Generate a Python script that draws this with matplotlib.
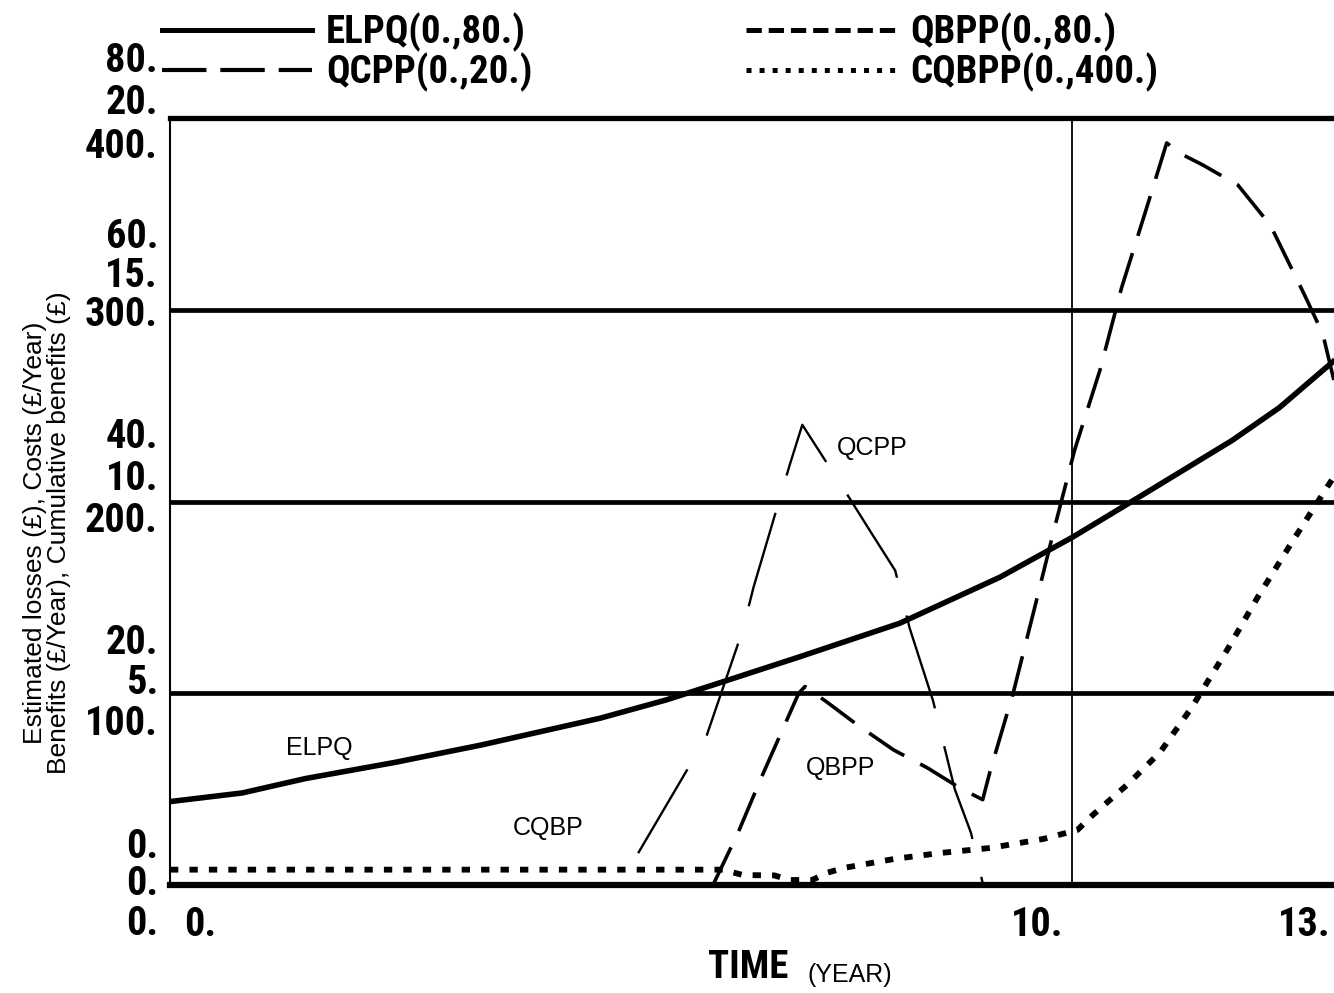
import matplotlib
matplotlib.use("Agg")
import matplotlib.pyplot as plt
from matplotlib.lines import Line2D
from matplotlib import transforms as mtrans
from matplotlib import font_manager as fm

# ------------------------------------------------------------------ data
# ELPQ  (scale 0 .. 80)
elpq_t = [0.0, 0.8, 1.5, 2.5, 3.45, 4.77, 5.5, 6.0, 6.98, 8.09, 9.2, 10.01, 10.75, 11.78, 12.3, 12.92]
elpq_v = [8.7, 9.6, 11.1, 12.8, 14.6, 17.4, 19.3, 20.8, 23.8, 27.3, 32.1, 36.3, 40.5, 46.4, 49.8, 54.8]

# QCPP  (scale 0 .. 20)
qcpp_t = [5.19, 5.72, 5.94, 6.35, 6.47, 6.87, 7.01, 7.53, 7.77, 8.04, 8.20, 8.46, 8.70, 8.88, 9.01]
qcpp_v = [0.83, 2.95, 3.83, 6.65, 7.77, 10.95, 12.0, 10.1, 9.2, 8.2, 6.7, 4.8, 2.5, 1.36, 0.05]

# QBPP  (scale 0 .. 80)
qbpp_t = [6.02, 6.30, 6.56, 6.97, 7.04, 7.28, 7.62, 8.02, 8.40, 8.76, 9.01, 9.09, 9.35, 9.58,
          9.81, 10.03, 10.31, 10.55, 10.83, 11.05, 11.20, 11.45, 11.84, 12.20, 12.58, 12.78, 12.92]
qbpp_v = [0.0, 5.5, 11.3, 20.0, 20.7, 19.1, 16.7, 14.1, 12.2, 10.1, 8.9, 11.8, 20.1, 28.7,
          37.4, 45.4, 53.7, 62.3, 70.7, 77.4, 76.3, 75.1, 73.0, 68.8, 61.5, 57.5, 52.0]

# CQBPP (scale 0 .. 400)
cqbpp_t = [0.0, 6.13, 6.35, 6.70, 6.87, 7.12, 7.28, 7.47, 7.84, 8.03, 8.54, 9.09, 9.68, 10.06,
           10.23, 10.61, 10.98, 11.33, 11.72, 12.06, 12.44, 12.83, 12.92]
cqbpp_v = [8.0, 8.0, 5.2, 5.0, 2.6, 2.6, 6.3, 8.9, 12.0, 13.6, 16.7, 19.3, 24.0, 28.7,
           36.5, 52.2, 69.4, 92.8, 122.6, 150.2, 178.9, 207.6, 214.0]

series_names = ["ELPQ", "QCPP", "QBPP", "CQBPP"]
legend_labels = ["ELPQ(0.,80.)", "QCPP(0.,20.)", "QBPP(0.,80.)", "CQBPP(0.,400.)"]

# y tick labels, one list per scale (stacked top to bottom at each level)
ytick_elpq = ["0.", "20.", "40.", "60.", "80."]
ytick_qcpp = ["0.", "5.", "10.", "15.", "20."]
ytick_cqbpp = ["0.", "100.", "200.", "300.", "400."]
ytick_vals = [0, 20, 40, 60, 80]

xtick_vals = [0, 10, 13]
xtick_labels = ["0.", "10.", "13."]

# ------------------------------------------------------------------ fonts
avail = {f.name for f in fm.fontManager.ttflist}
narrow = next((n for n in ["Roboto Condensed", "Liberation Sans Narrow",
                           "Open Sans Condensed", "DejaVu Sans"] if n in avail), "DejaVu Sans")
plain = "Liberation Sans" if "Liberation Sans" in avail else "DejaVu Sans"
plt.rcParams["lines.scale_dashes"] = False

# ------------------------------------------------------------------ figure
W, H = 1334, 993
fig = plt.figure(figsize=(W / 100, H / 100), dpi=100)
x0_px, x10_px = 170, 1072
ppy = (x10_px - x0_px) / 10.0
y_bot, y_top = 885, 118
ax = fig.add_axes([x0_px / W, (H - y_bot) / H, 13 * ppy / W, (y_bot - y_top) / H])
ax.set_xlim(0, 13)
ax.set_ylim(0, 80)
ax_q = ax.twinx()
ax_q.set_ylim(0, 20)
ax_c = ax.twinx()
ax_c.set_ylim(0, 400)
for a in (ax_q, ax_c):
    a.set_axis_off()

ax.spines["right"].set_visible(False)
ax.spines["top"].set_linewidth(3.8)
ax.spines["bottom"].set_linewidth(4.5)
ax.spines["left"].set_linewidth(1.5)
ax.set_xticks(xtick_vals)
ax.set_yticks(ytick_vals[1:-1])
ax.tick_params(length=0, labelleft=False, labelbottom=False)
ax.set_axisbelow(True)
ax.grid(True, axis="y", color="black", linewidth=3.4)
ax.grid(True, axis="x", color="black", linewidth=1.3)

# ------------------------------------------------------------------ series
ax.plot(elpq_t, elpq_v, color="black", lw=4.0, solid_capstyle="butt", zorder=3)
ax_q.plot(qcpp_t, qcpp_v, color="black", lw=1.7, dashes=(70, 28), zorder=3)
ax.plot(qbpp_t, qbpp_v, color="black", lw=2.6, dashes=(30, 13), zorder=3)
ax_c.plot(cqbpp_t, cqbpp_v, color="black", lw=4.2, dashes=(6.0, 8.0),
          dash_capstyle="butt", zorder=3)

# inline labels
lab_font = dict(family=plain, fontsize=18, color="black", ha="center", va="center")
ax.text(1.66, 14.3, "ELPQ", **lab_font)
ax.text(7.79, 45.6, "QCPP", **lab_font)
ax.text(7.43, 12.2, "QBPP", **lab_font)
ax.text(4.19, 5.9, "CQBP", **lab_font)

# ------------------------------------------------------------------ tick labels
tick_font = dict(family=narrow, fontweight="bold", fontsize=29, color="black")
ytrans = ax.get_yaxis_transform()
offs = [(-38, -1, 39), (-50, -10, 31), (-65, -22, 20), (-73, -34, 5), (-57, -15, 29)]
for i, v in enumerate(ytick_vals):
    for j, lab in enumerate((ytick_elpq[i], ytick_qcpp[i], ytick_cqbpp[i])):
        tr = ytrans + mtrans.ScaledTranslation(-12 / 100, -offs[i][j] / 100, fig.dpi_scale_trans)
        ax.text(0, v, lab, transform=tr, ha="right", va="center", **tick_font)

xtrans = ax.get_xaxis_transform()
xoffs = [46, -9, -12]
for v, lab, dx in zip(xtick_vals, xtick_labels, xoffs):
    tr = xtrans + mtrans.ScaledTranslation(dx / 100, -40 / 100, fig.dpi_scale_trans)
    ax.text(v, 0, lab, transform=tr, ha="right", va="center", clip_on=False, **tick_font)

# axis titles
fig.text(748 / W, 1 - 968 / H, "TIME", family=narrow, fontweight="bold", fontsize=28,
         ha="center", va="center")
fig.text(850 / W, 1 - 975 / H, "(YEAR)", family=plain, fontsize=18, ha="center", va="center")
fig.text(47 / W, 1 - 533 / H,
         "Estimated losses (£), Costs (£/Year)\nBenefits (£/Year), Cumulative benefits (£)",
         family=plain, fontsize=19, rotation=90, ha="center", va="center",
         multialignment="center", linespacing=1.05)

# ------------------------------------------------------------------ legend
handles = [
    Line2D([], [], color="black", lw=3.6),
    Line2D([], [], color="black", lw=3.0, dashes=(32, 10)),
    Line2D([], [], color="black", lw=3.6, dashes=(11, 5)),
    Line2D([], [], color="black", lw=3.6, dashes=(3.6, 5.8), dash_capstyle="butt"),
]
fig.legend(handles, legend_labels, ncol=2, loc="upper left",
           bbox_to_anchor=(162 / W, 1 - 13 / H), frameon=False,
           prop=fm.FontProperties(family=narrow, weight="bold", size=28),
           handlelength=3.85, handletextpad=0.37, columnspacing=5.5,
           labelspacing=0.0, borderpad=0, borderaxespad=0)

fig.savefig("out.png", dpi=100)
